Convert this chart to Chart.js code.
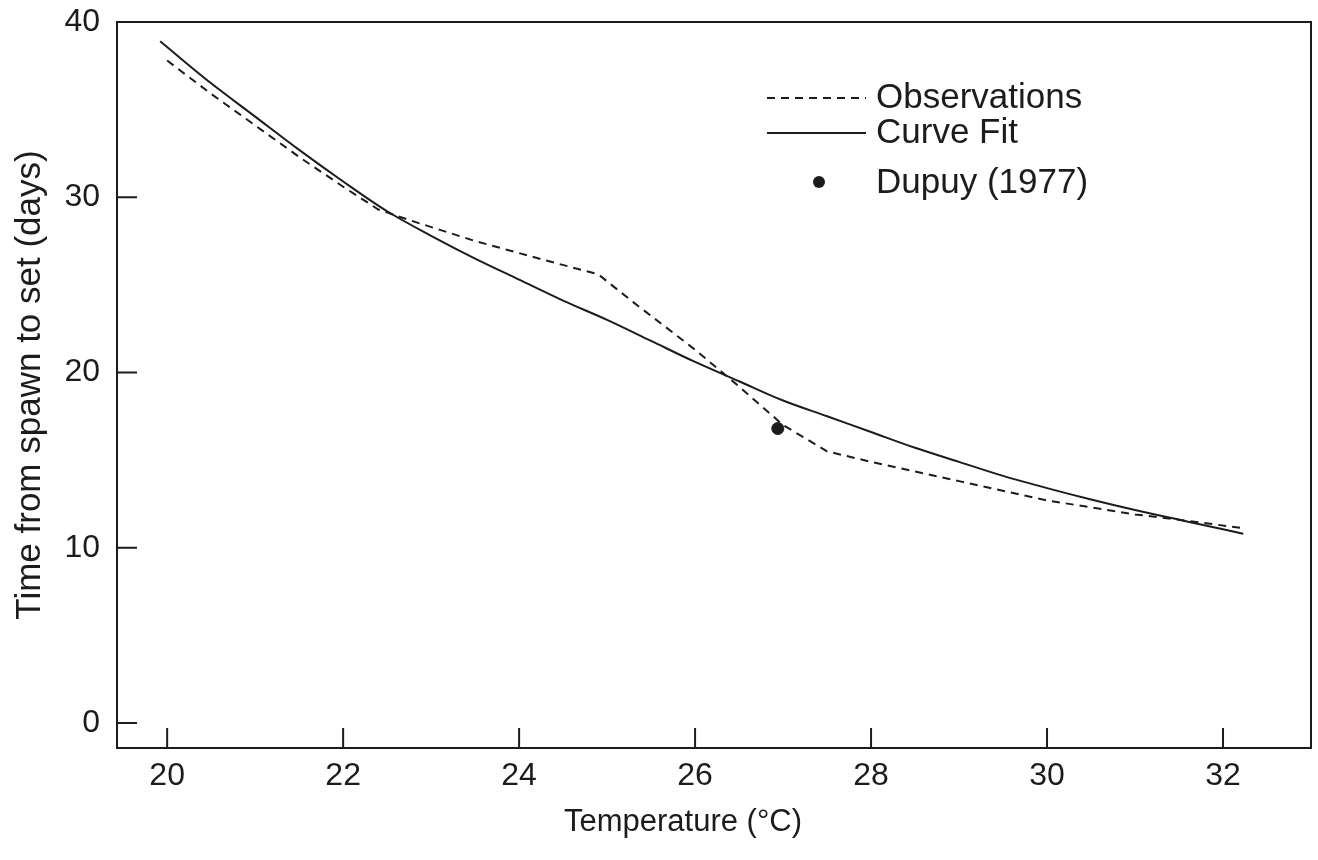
<!DOCTYPE html>
<html>
<head>
<meta charset="utf-8">
<script src="https://cdn.jsdelivr.net/npm/chart.js@4.4.1/dist/chart.umd.min.js"></script>
<style>
  html, body { margin: 0; padding: 0; background: #fff; }
  #wrap { width: 1318px; height: 860px; position: relative; }
</style>
</head>
<body>
<div id="wrap"><canvas id="spawnChart"></canvas></div>
<script>
// Curve fit (solid line)
const curveTemps = [19.92, 20.5, 21.0, 21.5, 22.0, 22.5, 23.0, 23.5, 24.0, 24.5, 25.0, 25.5, 26.0, 26.5, 27.0, 27.5, 28.0, 28.5, 29.0, 29.5, 30.0, 30.5, 31.0, 31.5, 32.0, 32.23];
const curveDays  = [38.9, 36.5, 34.6, 32.7, 30.9, 29.2, 27.8, 26.5, 25.3, 24.1, 23.0, 21.8, 20.6, 19.5, 18.4, 17.5, 16.6, 15.7, 14.9, 14.1, 13.4, 12.75, 12.15, 11.6, 11.05, 10.8];

// Observations (dashed line)
const obsTemps = [20.0, 20.5, 21.0, 21.5, 22.0, 22.4, 22.75, 23.5, 24.3, 24.9, 25.3, 26.0, 26.5, 27.0, 27.5, 28.0, 29.0, 30.0, 31.0, 31.5, 32.25];
const obsDays  = [37.8, 35.9, 34.1, 32.3, 30.6, 29.3, 28.7, 27.5, 26.4, 25.6, 24.0, 21.3, 19.2, 17.0, 15.5, 14.9, 13.8, 12.7, 11.9, 11.6, 11.1];

// Dupuy (1977) single point
const dupuyTemps = [26.94];
const dupuyDays  = [16.8];

const xTickValues = [20, 22, 24, 26, 28, 30, 32];
const yTickValues = [0, 10, 20, 30, 40];

const ink = '#1c1c1c';
const fontFamily = "'Liberation Sans', Arial, Helvetica, sans-serif";

function toPoints(xs, ys) {
    return xs.map((x, i) => ({ x: x, y: ys[i] }));
}

// box around plot + inward tick marks + x title (sits a bit left of centre in the original)
const frame = {
    id: 'frame',
    afterDraw(chart) {
        const ctx = chart.ctx;
        const a = chart.chartArea;
        const xs = chart.scales.x, ys = chart.scales.y;
        ctx.save();
        ctx.strokeStyle = ink;
        ctx.lineWidth = 2;
        ctx.strokeRect(a.left, a.top, a.right - a.left, a.bottom - a.top);
        ctx.beginPath();
        xs.ticks.forEach(t => {
            const px = xs.getPixelForValue(t.value);
            ctx.moveTo(px, a.bottom);
            ctx.lineTo(px, a.bottom - 20);
        });
        ys.ticks.forEach(t => {
            const py = ys.getPixelForValue(t.value);
            ctx.moveTo(a.left, py);
            ctx.lineTo(a.left + 20, py);
        });
        ctx.stroke();

        ctx.fillStyle = ink;
        ctx.font = '31px ' + fontFamily;
        ctx.textAlign = 'center';
        ctx.textBaseline = 'middle';
        ctx.fillText('Temperature (°C)', 683, 822);
        ctx.restore();
    }
};

// legend inside the plot, rows spaced like the original
const insideLegend = {
    id: 'insideLegend',
    afterDraw(chart) {
        const ctx = chart.ctx;
        const rows = [98, 133, 183];
        ctx.save();
        ctx.font = '35px ' + fontFamily;
        ctx.fillStyle = ink;
        ctx.textBaseline = 'middle';
        chart.data.datasets.forEach((ds, i) => {
            const y = rows[i];
            ctx.strokeStyle = ink;
            ctx.lineWidth = 2;
            if (ds.showLine) {
                ctx.setLineDash(ds.borderDash || []);
                ctx.beginPath();
                ctx.moveTo(767, y);
                ctx.lineTo(866, y);
                ctx.stroke();
                ctx.setLineDash([]);
            } else {
                ctx.beginPath();
                ctx.arc(819, y - 1, 6, 0, Math.PI * 2);
                ctx.fill();
            }
            ctx.fillText(ds.label, 876, y);
        });
        ctx.restore();
    }
};

new Chart(document.getElementById('spawnChart'), {
    type: 'scatter',
    data: {
        datasets: [
            {
                label: 'Observations',
                data: toPoints(obsTemps, obsDays),
                showLine: true,
                borderColor: ink,
                borderWidth: 2,
                borderDash: [8, 6],
                pointRadius: 0,
                tension: 0
            },
            {
                label: 'Curve Fit',
                data: toPoints(curveTemps, curveDays),
                showLine: true,
                borderColor: ink,
                borderWidth: 2,
                pointRadius: 0,
                cubicInterpolationMode: 'monotone'
            },
            {
                label: 'Dupuy (1977)',
                data: toPoints(dupuyTemps, dupuyDays),
                showLine: false,
                backgroundColor: ink,
                borderColor: ink,
                pointRadius: 6
            }
        ]
    },
    options: {
        responsive: true,
        maintainAspectRatio: false,
        animation: false,
        layout: { padding: { top: 22, right: 5, left: 0, bottom: 0 } },
        scales: {
            x: {
                type: 'linear',
                min: 19.43,
                max: 33.0,
                afterBuildTicks: scale => { scale.ticks = xTickValues.map(v => ({ value: v })); },
                afterFit: scale => { scale.height = 112; },
                grid: { display: false, drawTicks: false },
                border: { display: false },
                ticks: {
                    padding: 9,
                    color: ink,
                    font: { family: fontFamily, size: 32 },
                    maxRotation: 0
                },
                title: { display: false }
            },
            y: {
                type: 'linear',
                min: -1.43,
                max: 40,
                afterBuildTicks: scale => { scale.ticks = yTickValues.map(v => ({ value: v })); },
                afterFit: scale => {
                    scale.width = 117;
                    scale.paddingTop = 0;
                    scale.paddingBottom = 0;
                },
                grid: { display: false, drawTicks: false },
                border: { display: false },
                ticks: {
                    padding: 17,
                    color: ink,
                    font: { family: fontFamily, size: 32 }
                },
                title: {
                    display: true,
                    text: 'Time from spawn to set (days)',
                    color: ink,
                    font: { family: fontFamily, size: 35 },
                    padding: { top: 9, bottom: 0 }
                }
            }
        },
        plugins: {
            legend: { display: false },
            tooltip: { enabled: false }
        }
    },
    plugins: [frame, insideLegend]
});
</script>
</body>
</html>
